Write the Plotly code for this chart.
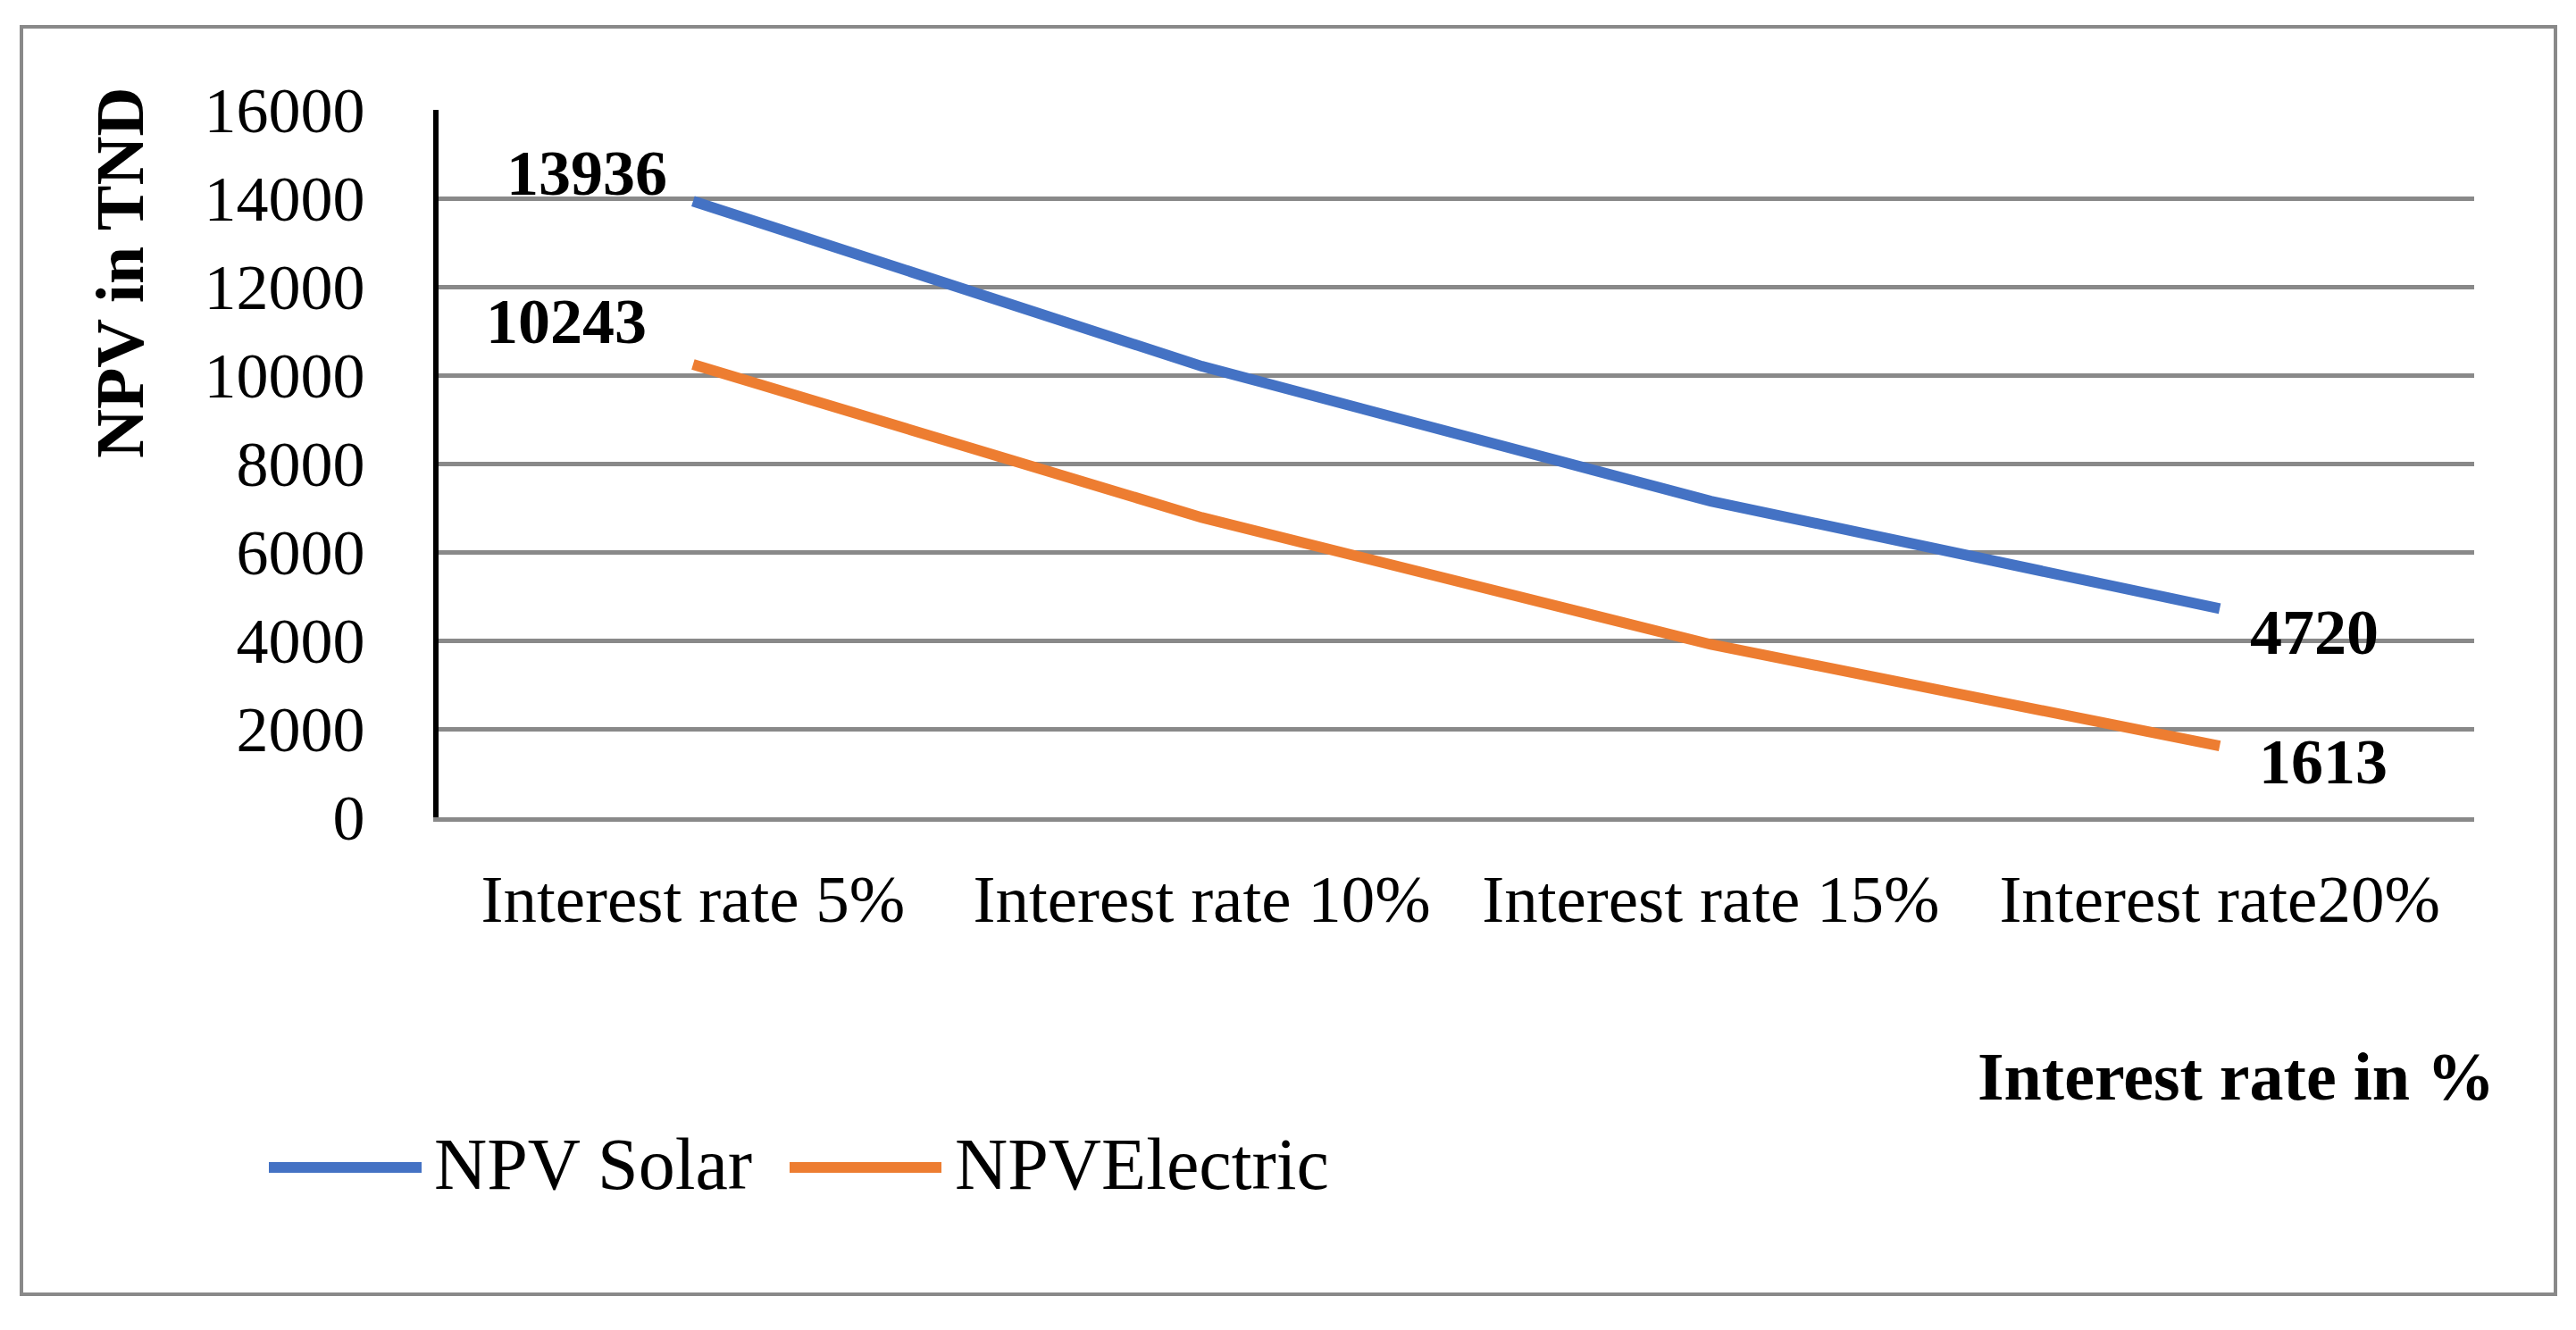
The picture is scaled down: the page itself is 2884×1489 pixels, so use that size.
import plotly.graph_objects as go

categories = ["Interest rate 5%", "Interest rate 10%", "Interest rate 15%", "Interest rate20%"]
npv_solar = [13936, 10200, 7150, 4720]
npv_electric = [10243, 6780, 3910, 1613]
y_ticks = [0, 2000, 4000, 6000, 8000, 10000, 12000, 14000, 16000]

OFF = 8  # page body margin
W, H = 2884 - OFF, 1489 - OFF
L, R, T, B = 491 - OFF, 2770 - OFF, 123 - OFF, 915 - OFF
PW, PH = R - L, B - T

def px(x):
    return (x - OFF - L) / PW

def py(y):
    return (B - (y - OFF)) / PH

FONT = "Liberation Serif, Times New Roman, serif"
BLUE = "#4472C4"
ORANGE = "#ED7D31"
GRID = "#898989"

fig = go.Figure()
fig.add_trace(go.Scatter(x=categories, y=npv_solar, mode="lines", name="NPV Solar",
                         line=dict(color=BLUE, width=12)))
fig.add_trace(go.Scatter(x=categories, y=npv_electric, mode="lines", name="NPVElectric",
                         line=dict(color=ORANGE, width=12)))

annotations = []
# data labels
label_specs = [
    (categories[0], npv_solar[0], -119, 31),
    (categories[0], npv_electric[0], -142, 48),
    (categories[-1], npv_solar[-1], 106, -27),
    (categories[-1], npv_electric[-1], 116, -18),
]
for cx, cy, dx, dy in label_specs:
    annotations.append(dict(x=cx, y=cy, xref="x", yref="y", text=f"<b>{cy}</b>",
                            showarrow=False, xshift=dx, yshift=dy,
                            font=dict(family=FONT, size=72, color="black"),
                            xanchor="center", yanchor="middle"))

# axis titles
annotations.append(dict(x=px(134), y=py(306), xref="paper", yref="paper",
                        text="<b>NPV in TND</b>", textangle=-90, showarrow=False,
                        font=dict(family=FONT, size=76, color="black"),
                        xanchor="center", yanchor="middle"))
annotations.append(dict(x=px(2503), y=py(1205), xref="paper", yref="paper",
                        text="<b>Interest rate in %</b>", showarrow=False,
                        font=dict(family=FONT, size=76, color="black"),
                        xanchor="center", yanchor="middle"))

# manual legend
shapes = []
legend_items = [("NPV Solar", BLUE, 301, 472, 484), ("NPVElectric", ORANGE, 884, 1054, 1067)]
for name, col, x0, x1, tx in legend_items:
    shapes.append(dict(type="line", xref="paper", yref="paper",
                       x0=px(x0), x1=px(x1), y0=py(1307), y1=py(1307),
                       line=dict(color=col, width=12)))
    annotations.append(dict(x=px(tx), y=py(1303), xref="paper", yref="paper",
                            text=name, showarrow=False, xanchor="left", yanchor="middle",
                            font=dict(family=FONT, size=82, color="black")))

# outer frame
shapes.append(dict(type="rect", xref="paper", yref="paper",
                   x0=px(24), x1=px(2861), y0=py(1449), y1=py(30),
                   line=dict(color=GRID, width=4), fillcolor="rgba(0,0,0,0)", layer="below"))

fig.update_layout(
    width=W, height=H,
    margin=dict(l=L, r=W - R, t=T, b=H - B, pad=0),
    paper_bgcolor="white", plot_bgcolor="white",
    showlegend=False,
    annotations=annotations,
    shapes=shapes,
    font=dict(family=FONT, color="black"),
)
fig.update_xaxes(
    type="category", range=[-0.5, len(categories) - 0.5],
    showgrid=False, zeroline=False,
    showline=True, linecolor=GRID, linewidth=4.5,
    ticks="", ticklabelstandoff=22,
    tickfont=dict(family=FONT, size=75, color="black"),
)
fig.update_yaxes(
    range=[0, 16000], tickvals=y_ticks, ticktext=[str(v) for v in y_ticks],
    showgrid=True, gridcolor=GRID, gridwidth=4.5, zeroline=False,
    showline=True, linecolor="black", linewidth=6,
    ticks="", ticklabelstandoff=62,
    tickfont=dict(family=FONT, size=72, color="black"),
)

fig.write_html("out.html")
